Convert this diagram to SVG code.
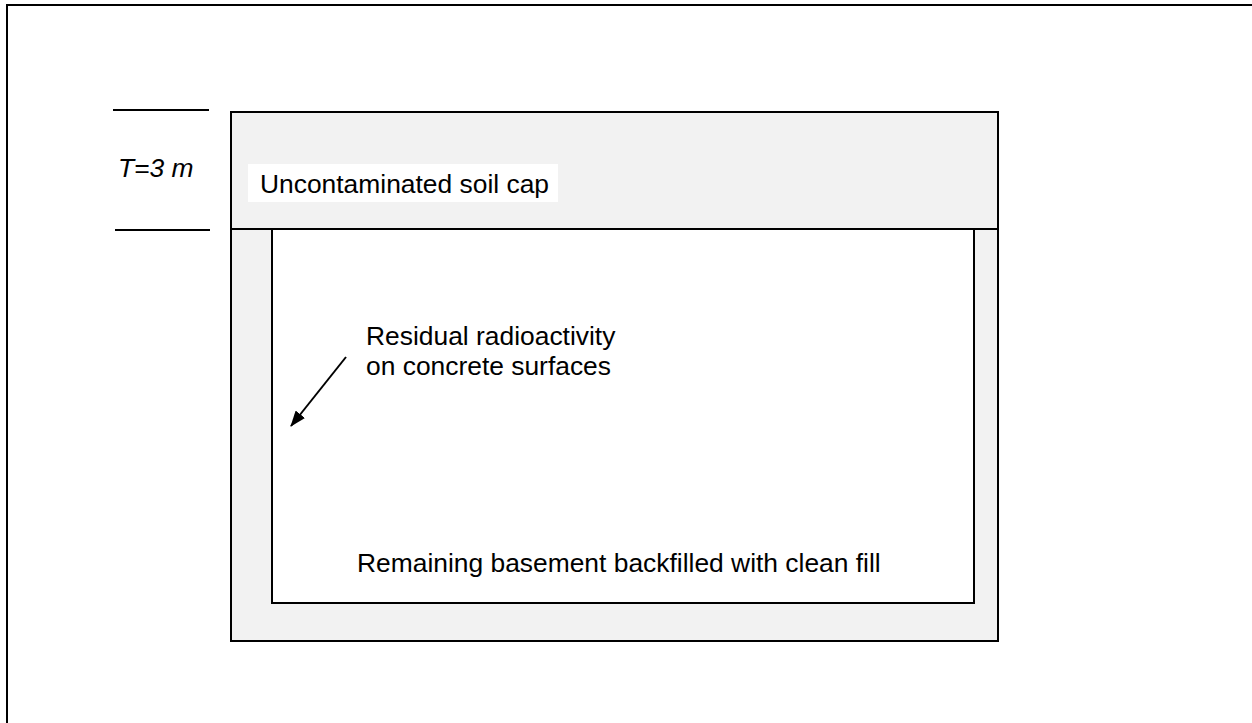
<svg xmlns="http://www.w3.org/2000/svg" width="1252" height="723" viewBox="0 0 1252 723">
  <defs>
    <style>
      .t { font-family: "Liberation Sans", Arial, sans-serif; font-size: 26.4px; fill: #000; }
      .frame { fill: none; stroke: #000; stroke-width: 2; }
      .soil { fill: #f2f2f2; stroke: #000; stroke-width: 2; }
      .inner { fill: #fff; stroke: #000; stroke-width: 2; }
      .conn { stroke: #000; stroke-width: 2; fill: none; }
    </style>
    <marker id="arrow" viewBox="0 0 16 12" refX="15" refY="6" markerWidth="8" markerHeight="6" markerUnits="strokeWidth" orient="auto">
      <path d="M0,0 L16,6 L0,12 z" fill="#000"/>
    </marker>
  </defs>
  <rect width="1252" height="723" fill="#fff"/>
  <path class="frame" d="M7,740 L7,5 L1270,5" stroke-width="2.5"/>
  <g id="outer-box">
    <rect class="soil" x="231" y="112" width="767" height="529"/>
  </g>
  <g id="basement">
    <rect class="inner" x="272" y="229" width="702" height="374"/>
    <line class="conn" x1="231" y1="229" x2="998" y2="229"/>
    <text class="t" x="357" y="572">Remaining basement backfilled with clean fill</text>
  </g>
  <g id="soil-cap">
    <rect x="248" y="164" width="310" height="38" fill="#fff"/>
    <text class="t" x="260" y="193">Uncontaminated soil cap</text>
  </g>
  <g id="thickness">
    <line class="conn" x1="113" y1="110" x2="209" y2="110"/>
    <line class="conn" x1="115" y1="230" x2="210" y2="230"/>
    <text class="t" x="118" y="177" font-style="italic">T=3 m</text>
  </g>
  <g id="residual-label">
    <text class="t" x="366" y="345">Residual radioactivity</text>
    <text class="t" x="366" y="375">on concrete surfaces</text>
  </g>
  <g id="connectors">
    <line class="conn" x1="346" y1="357" x2="291" y2="426" marker-end="url(#arrow)"/>
  </g>
</svg>
